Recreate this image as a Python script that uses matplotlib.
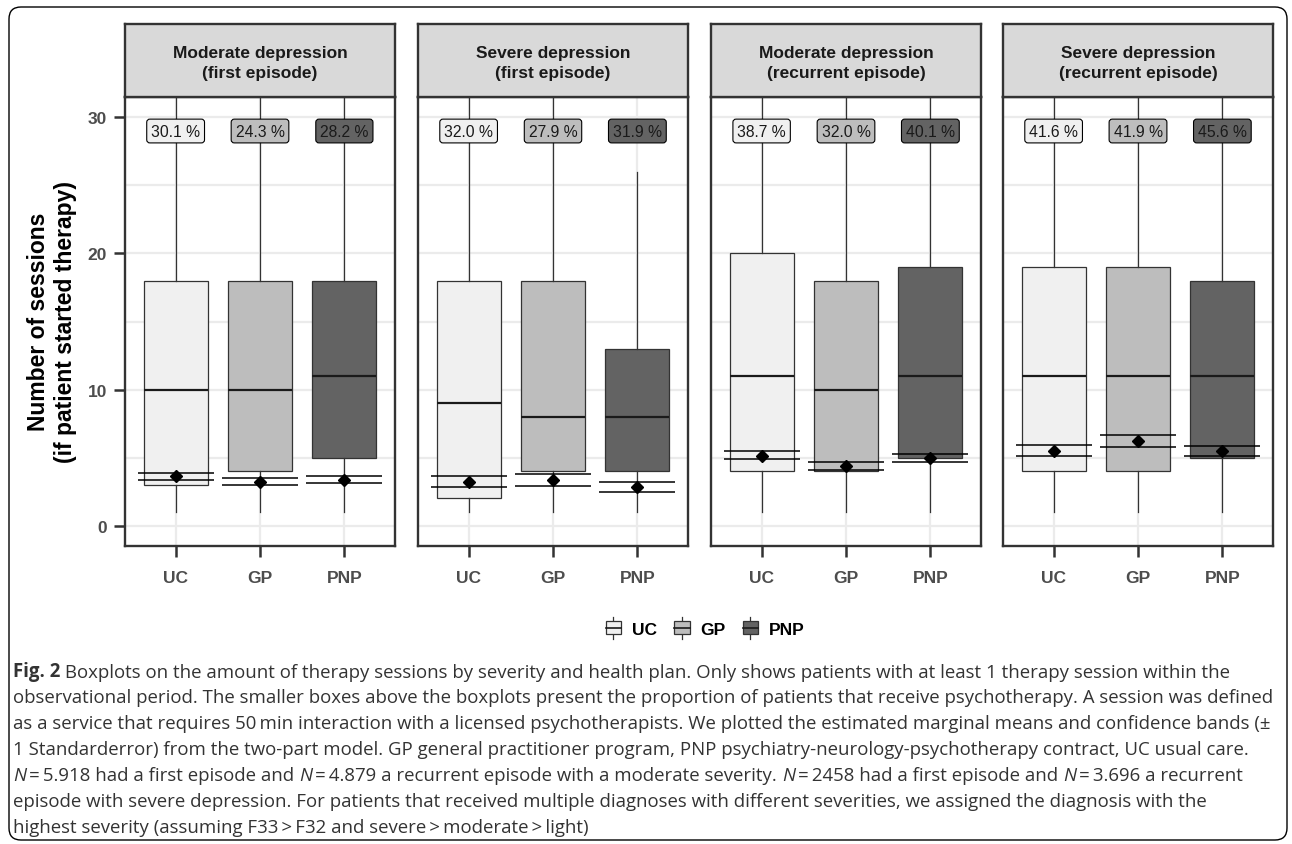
import matplotlib.pyplot as plt
from matplotlib.legend_handler import HandlerBase
from matplotlib.patches import FancyBboxPatch, Rectangle
from matplotlib.lines import Line2D
from matplotlib.transforms import IdentityTransform

plt.rcParams['font.family'] = ['Liberation Sans', 'DejaVu Sans']

# ---- data ----
panels = ['Moderate depression\n(first episode)', 'Severe depression\n(first episode)',
          'Moderate depression\n(recurrent episode)', 'Severe depression\n(recurrent episode)']
plans = ['UC', 'GP', 'PNP']
fills = ['#F0F0F0', '#BDBDBD', '#636363']

q1 = [[3, 4, 5], [2, 4, 4], [4, 4, 5], [4, 4, 5]]
med = [[10, 10, 11], [9, 8, 8], [11, 10, 11], [11, 11, 11]]
q3 = [[18, 18, 18], [18, 18, 13], [20, 18, 19], [19, 19, 18]]
whis_lo = [[1, 1, 1], [1, 1, 1], [1, 1, 1], [1, 1, 1]]
whis_hi = [[35, 35, 35], [35, 35, 26], [35, 35, 35], [35, 35, 35]]  # most run past the top
emm = [[3.63, 3.24, 3.38], [3.21, 3.35, 2.82], [5.15, 4.41, 4.97], [5.51, 6.20, 5.46]]
emm_lo = [[3.38, 2.99, 3.16], [2.84, 2.93, 2.45], [4.90, 4.12, 4.65], [5.15, 5.79, 5.15]]
emm_hi = [[3.87, 3.48, 3.65], [3.65, 3.80, 3.18], [5.46, 4.68, 5.24], [5.93, 6.64, 5.86]]
share = [[30.1, 24.3, 28.2], [32.0, 27.9, 31.9], [38.7, 32.0, 40.1], [41.6, 41.9, 45.6]]

caption = [
    [('Fig. 2', 'bold'), (' Boxplots on the amount of therapy sessions by severity and health plan. '
                          'Only shows patients with at least 1 therapy session within the', 'normal')],
    [('observational period. The smaller boxes above the boxplots present the proportion of patients '
      'that receive psychotherapy. A session was defined', 'normal')],
    [('as a service that requires 50\u2009min interaction with a licensed psychotherapists. We plotted '
      'the estimated marginal means and confidence bands (\u00b1', 'normal')],
    [('1 Standarderror) from the two-part model. GP general practitioner program, PNP '
      'psychiatry-neurology-psychotherapy contract, UC usual care.', 'normal')],
    [('N', 'italic'), ('\u2009=\u20095.918 had a first episode and ', 'normal'), ('N', 'italic'),
     ('\u2009=\u20094.879 a recurrent episode with a moderate severity. ', 'normal'), ('N', 'italic'),
     ('\u2009=\u20092458 had a first episode and ', 'normal'), ('N', 'italic'),
     ('\u2009=\u20093.696 a recurrent', 'normal')],
    [('episode with severe depression. For patients that received multiple diagnoses with different '
      'severities, we assigned the diagnosis with the', 'normal')],
    [('highest severity (assuming F33\u2009>\u2009F32 and severe\u2009>\u2009moderate\u2009>\u2009light)',
      'normal')],
]

W, H = 1292, 845


def frac(x0, y0, w, h):
    return [x0 / W, 1 - (y0 + h) / H, w / W, h / H]


fig = plt.figure(figsize=(W / 100, H / 100), dpi=100)

# outer frame of the figure box
fig.patches.append(FancyBboxPatch((9, 4), 1278, 833, boxstyle='round,pad=0,rounding_size=12',
                                  fc='none', ec='black', lw=1.0, transform=IdentityTransform()))

lefts = [125, 418, 711, 1003]
xs = [1, 2, 3]
for i, title in enumerate(panels):
    ax = fig.add_axes(frac(lefts[i], 98, 270, 449))

    stats = []
    for j in range(3):
        stats.append(dict(med=med[i][j], q1=q1[i][j], q3=q3[i][j],
                          whislo=whis_lo[i][j], whishi=whis_hi[i][j], fliers=[]))
    bp = ax.bxp(stats, positions=xs, widths=0.76, patch_artist=True, showcaps=False,
                showfliers=False, manage_ticks=False,
                boxprops=dict(edgecolor='#333333', lw=0.9),
                whiskerprops=dict(color='#333333', lw=0.9),
                medianprops=dict(color='#1A1A1A', lw=1.6))
    for patch, c in zip(bp['boxes'], fills):
        patch.set_facecolor(c)

    ax.hlines(emm_lo[i], [x - 0.45 for x in xs], [x + 0.45 for x in xs], color='black', lw=1.1, zorder=4)
    ax.hlines(emm_hi[i], [x - 0.45 for x in xs], [x + 0.45 for x in xs], color='black', lw=1.1, zorder=4)
    ax.plot(xs, emm[i], 'D', color='black', ms=6, zorder=5)

    for j in range(3):
        ax.text(xs[j], 29, f'{share[i][j]:.1f} %', ha='center', va='center', fontsize=11.3,
                color='#1A1A1A', zorder=6,
                bbox=dict(boxstyle='round,pad=0.28,rounding_size=0.2', fc=fills[j], ec='black', lw=0.8))

    ax.set_xlim(0.4, 3.6)
    ax.set_ylim(-1.5, 31.5)
    ax.set_yticks([0, 10, 20, 30])
    ax.set_yticks([5, 15, 25], minor=True)
    ax.set_xticks(xs)
    ax.set_xticklabels(plans, fontweight='bold')
    ax.grid(which='both', axis='y', color='#EBEBEB', lw=1.6)
    ax.grid(which='major', axis='x', color='#EBEBEB', lw=1.6)
    ax.set_axisbelow(True)
    for s in ax.spines.values():
        s.set_linewidth(1.7)
        s.set_color('#333333')
    ax.tick_params(which='minor', length=0)
    ax.tick_params(axis='x', length=8, width=1.8, color='#333333', pad=9,
                   labelsize=12.5, labelcolor='#4D4D4D')
    if i == 0:
        ax.tick_params(axis='y', length=8, width=1.8, color='#333333', pad=5,
                       labelsize=12.5, labelcolor='#4D4D4D')
        for lab in ax.get_yticklabels():
            lab.set_fontweight('bold')
    else:
        ax.tick_params(axis='y', which='both', length=0, labelleft=False)

    sax = fig.add_axes(frac(lefts[i], 25, 270, 73))
    sax.set_facecolor('#D9D9D9')
    sax.set_xticks([])
    sax.set_yticks([])
    for s in sax.spines.values():
        s.set_linewidth(1.7)
        s.set_color('#333333')
    sax.text(0.5, 0.47, title, ha='center', va='center', fontsize=12.5, fontweight='bold',
             color='#1A1A1A', linespacing=1.4, transform=sax.transAxes)

fig.text(52 / W, 1 - 322 / H, 'Number of sessions\n(if patient started therapy)', rotation=90,
         ha='center', va='center', fontsize=16.5, fontweight='bold', linespacing=1.2)


class BoxKey(HandlerBase):
    def create_artists(self, legend, orig_handle, xdescent, ydescent, width, height, fontsize, trans):
        x0, y0 = -xdescent, -ydescent
        cx = x0 + width / 2
        arts = [Line2D([cx, cx], [y0 - 0.35 * height, y0 + 1.35 * height], color='#333333', lw=0.9),
                Rectangle((x0, y0), width, height, fc=orig_handle.get_facecolor(), ec='#333333', lw=0.9),
                Line2D([x0, x0 + width], [y0 + height / 2] * 2, color='#1A1A1A', lw=1.2)]
        for a in arts:
            a.set_transform(trans)
        return arts


handles = [Rectangle((0, 0), 1, 1, fc=c) for c in fills]
leg = fig.legend(handles, plans, loc='center', bbox_to_anchor=(705 / W, 1 - 630 / H), ncol=3,
                 frameon=False, handler_map={Rectangle: BoxKey()}, handlelength=0.9, handleheight=0.8,
                 handletextpad=0.6, columnspacing=1.0,
                 prop=dict(size=12.5, weight='bold'))

# caption, line by line
cap_font = ['Open Sans', 'DejaVu Sans']
cax = fig.add_axes([0, 0, 1, 1])
cax.axis('off')
baselines = [677, 703, 729, 755, 781, 807, 833]
for yb, frags in zip(baselines, caption):
    prev = None
    for txt, style in frags:
        kw = dict(fontsize=13.4, color='#333333', family=cap_font,
                  fontweight='bold' if style == 'bold' else 'normal',
                  fontstyle='italic' if style == 'italic' else 'normal')
        if prev is None:
            prev = cax.text(13 / W, 1 - yb / H, txt, ha='left', va='baseline', **kw)
        else:
            prev = cax.annotate(txt, xy=(1, 0), xycoords=prev, ha='left', va='bottom', **kw)

fig.savefig('out.png', dpi=100)
